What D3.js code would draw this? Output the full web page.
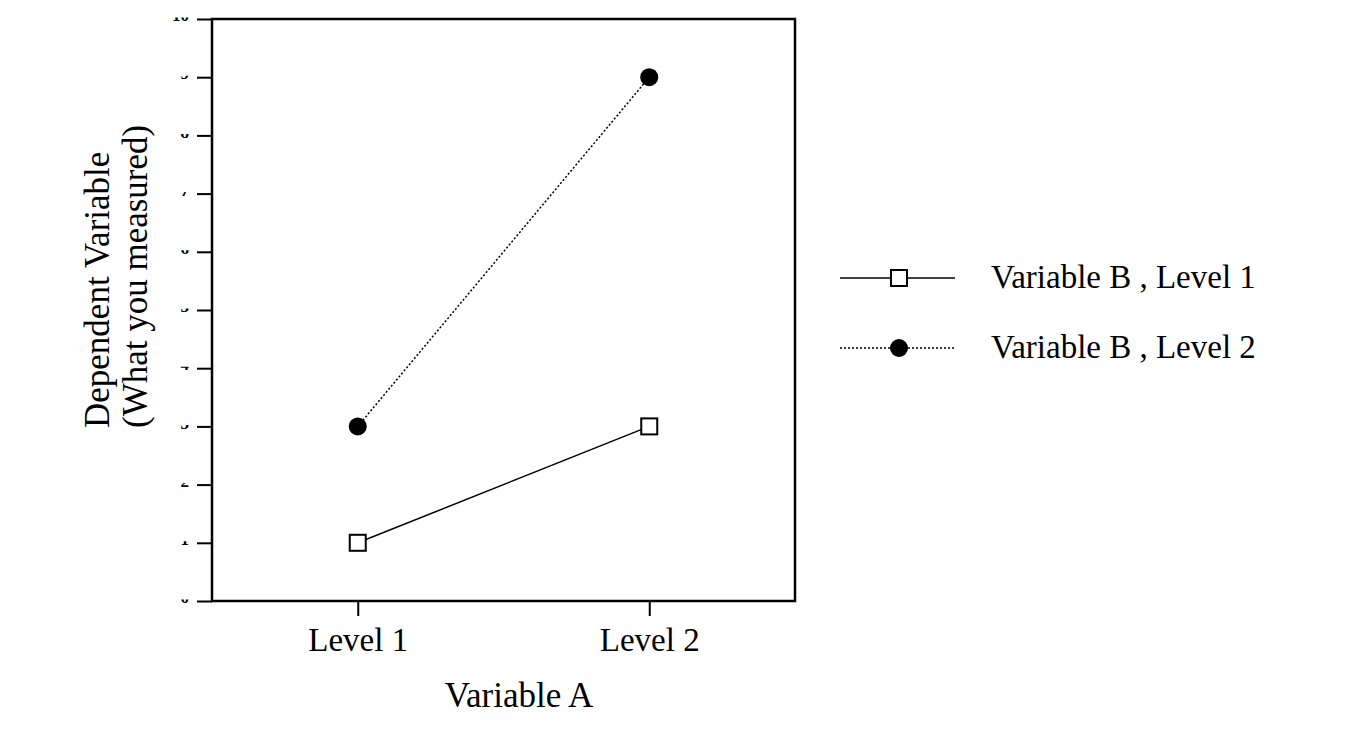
<html>
<head>
<script src="https://cdn.jsdelivr.net/npm/d3@7"></script>
<style>
  body { margin: 0; background: #fff; }
  text { font-family: "Liberation Serif", "DejaVu Serif", serif; fill: #000; }
</style>
</head>
<body>
<svg id="chart" width="1346" height="742"></svg>
<script>
// data
const levelsA = ["Level 1", "Level 2"]
const seriesNames = ["Variable B , Level 1", "Variable B , Level 2"]
const valuesB1 = [1, 3]
const valuesB2 = [3, 9]
const yTicks = [0, 1, 2, 3, 4, 5, 6, 7, 8, 9, 10]

const svg = d3.select("#chart")
const plotLeft = 212, plotTop = 19, plotRight = 795, plotBottom = 601

let x = d3.scalePoint().domain(levelsA).range([plotLeft, plotRight]).padding(0.5)
let y = d3.scaleLinear().domain([0, 10]).range([plotBottom, plotTop])

// clip for the cut-off tick numbers, only a thin strip of them shows
svg.append("clipPath").attr("id", "tickclip")
    .append("rect").attr("x", -60).attr("y", -2).attr("width", 50).attr("height", 4)

let yAxis = d3.axisLeft(y).tickValues(yTicks).tickSize(15).tickPadding(8)
let yG = svg.append("g").attr("transform", `translate(${plotLeft},0)`).call(yAxis)
yG.select(".domain").remove()
yG.selectAll(".tick line").attr("stroke", "#000").attr("stroke-width", 2)
yG.selectAll(".tick text")
    .attr("font-size", 17).attr("font-weight", "bold")
    .attr("dy", "0.1em")
    .attr("clip-path", "url(#tickclip)")

let xAxis = d3.axisBottom(x).tickSize(15).tickPadding(12)
let xG = svg.append("g").attr("transform", `translate(0,${plotBottom})`).call(xAxis)
xG.select(".domain").remove()
xG.selectAll(".tick line").attr("stroke", "#000").attr("stroke-width", 2)
xG.selectAll(".tick text").attr("font-size", 33).attr("font-family", "Liberation Serif")

// frame
svg.append("rect")
    .attr("x", plotLeft).attr("y", plotTop)
    .attr("width", plotRight - plotLeft).attr("height", plotBottom - plotTop)
    .attr("fill", "none").attr("stroke", "#000").attr("stroke-width", 2.5)

let line = d3.line().x((d, i) => x(levelsA[i])).y(d => y(d))

// series B1: solid, open squares
svg.append("path").datum(valuesB1)
    .attr("d", line).attr("fill", "none").attr("stroke", "#000").attr("stroke-width", 1.5)
// series B2: dotted, filled circles
svg.append("path").datum(valuesB2)
    .attr("d", line).attr("fill", "none").attr("stroke", "#000").attr("stroke-width", 1.5)
    .attr("stroke-dasharray", "2,2")

svg.selectAll(".sq").data(valuesB1).enter().append("rect")
    .attr("x", (d, i) => x(levelsA[i]) - 8).attr("y", d => y(d) - 8)
    .attr("width", 16).attr("height", 16)
    .attr("fill", "#fff").attr("stroke", "#000").attr("stroke-width", 2)

svg.selectAll(".dot").data(valuesB2).enter().append("circle")
    .attr("cx", (d, i) => x(levelsA[i])).attr("cy", d => y(d))
    .attr("r", 9).attr("fill", "#000")

// axis titles
svg.append("text").text("Variable A")
    .attr("x", 519).attr("y", 707).attr("text-anchor", "middle").attr("font-size", 35)

let yTitle = svg.append("text").attr("transform", "translate(109,428) rotate(-90)")
    .attr("font-size", 35)
yTitle.append("tspan").attr("x", 0).attr("y", 0).text("Dependent Variable")
yTitle.append("tspan").attr("x", 0).attr("y", 38).text("(What you measured)")

// legend
let legend = svg.append("g").selectAll("g").data(seriesNames).enter().append("g")
    .attr("transform", (d, i) => `translate(840,${278 + i * 70})`)
legend.append("line").attr("x1", 0).attr("x2", 115)
    .attr("stroke", "#000").attr("stroke-width", 1.5)
    .attr("stroke-dasharray", (d, i) => i == 1 ? "2,2" : null)
legend.filter((d, i) => i == 0).append("rect")
    .attr("x", 51).attr("y", -8).attr("width", 16).attr("height", 16)
    .attr("fill", "#fff").attr("stroke", "#000").attr("stroke-width", 2)
legend.filter((d, i) => i == 1).append("circle")
    .attr("cx", 59).attr("r", 9).attr("fill", "#000")
legend.append("text").text(d => d)
    .attr("x", 151).attr("y", 10).attr("font-size", 33)
</script>
</body>
</html>
